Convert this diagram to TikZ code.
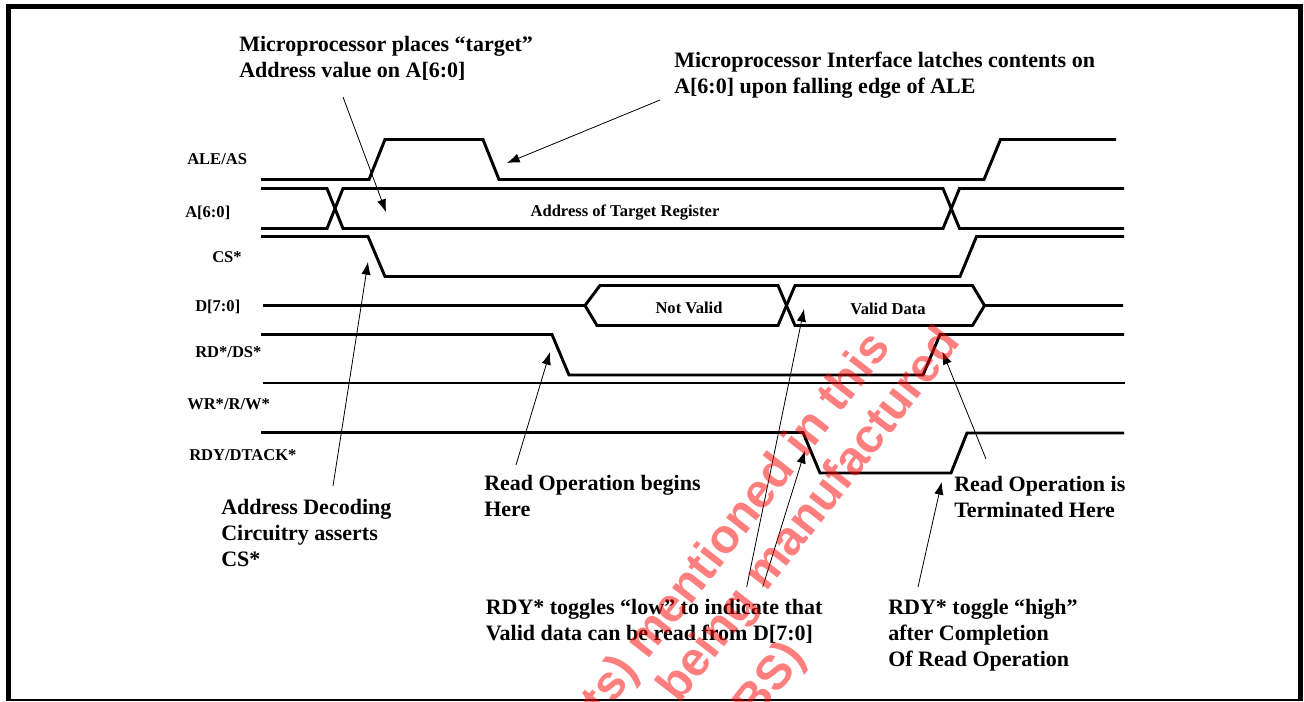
\documentclass[tikz,border=0pt]{standalone}
\usepackage{fontspec}
\setmainfont{Liberation Serif}
\newfontfamily\wmfont{Liberation Sans}
\usetikzlibrary{arrows.meta}
\tikzset{
  sig/.style={line width=2.2pt,line join=miter,line cap=butt},
  note/.style={font=\fontsize{16.5pt}{19.5pt}\selectfont\bfseries,anchor=north west,inner sep=0pt,align=left},
  lbl/.style={font=\fontsize{12.4pt}{14pt}\selectfont\bfseries,inner sep=0pt},
  call/.style={line width=0.6pt,-{Latex[length=9.5pt,width=7pt]}},
  wm/.style={font=\wmfont\fontsize{36pt}{42pt}\selectfont\bfseries,text=red,opacity=0.5,rotate=52,inner sep=0pt}
}
\begin{document}
\begin{tikzpicture}[x=0.75pt,y=-0.75pt]
\useasboundingbox (0,0) rectangle (1304,701);
\clip (0,0) rectangle (1304,701);
% frame
\draw[line width=4pt] (8.5,700.5) -- (8.5,6.5) -- (1300.5,6.5) -- (1300.5,700.5);
\draw[line width=0.8pt] (6,700) -- (1303,700);
% signals
\draw[sig] (261,179.5) -- (369,179.5) -- (385,139.5) -- (483,139.5) -- (499,179.5) -- (984,179.5) -- (1000.5,139.5) -- (1116,139.5);
\draw[sig] (261,188.5) -- (327,188.5) -- (343,228.5) -- (943,228.5) -- (959.5,188.5) -- (1124,188.5);
\draw[sig] (261,228.5) -- (327,228.5) -- (343,188.5) -- (943,188.5) -- (959.5,228.5) -- (1124,228.5);
\draw[sig] (261,236.5) -- (368,236.5) -- (385,276.5) -- (960,276.5) -- (976.5,236.5) -- (1124,236.5);
\draw[sig] (263,305.5) -- (585,305.5) -- (600,285.5) -- (778,285.5) -- (795,325.5) -- (972.5,325.5) -- (984.5,305.5) -- (1123,305.5);
\draw[sig] (585,305.5) -- (597,325.5) -- (778,325.5) -- (795,285.5) -- (972.5,285.5) -- (984.5,305.5);
\draw[sig] (261,334.5) -- (552,334.5) -- (569,375) -- (923,375) -- (940,334.5) -- (1124,334.5);
\draw[sig] (263,383) -- (1125,383);
\draw[sig] (261,432.5) -- (803,432.5) -- (820,473) -- (951,473) -- (967,433) -- (1124,433);
% signal labels
\node[lbl,anchor=west] (lale) at (187,159.5) {ALE/AS};
\node[lbl,anchor=west] (la) at (185,212.5) {A[6:0]};
\node[lbl,anchor=west] (lcs) at (212,257.5) {CS*};
\node[lbl,anchor=west] (ld) at (195,306.5) {D[7:0]};
\node[lbl,anchor=west] (lrd) at (195,352.5) {RD*/DS*};
\node[lbl,anchor=west] (lwr) at (187,404.5) {WR*/R/W*};
\node[lbl,anchor=west] (lrdy) at (189,455.5) {RDY/DTACK*};
\node[lbl] (taddr) at (625,212) {Address of Target Register};
\node[lbl] (tnv) at (689,307.5) {Not Valid};
\node[lbl] (tvd) at (888,308.5) {Valid Data};
% notes
\node[note] (n1) at (239,36) {Microprocessor places “target”\\Address value on A[6:0]};
\node[note] (n2) at (674,52) {Microprocessor Interface latches contents on\\A[6:0] upon falling edge of ALE};
\node[note] (n3) at (221,499) {Address Decoding\\Circuitry asserts\\CS*};
\node[note] (n4) at (484,475) {Read Operation begins\\Here};
\node[note] (n5) at (954,476) {Read Operation is\\Terminated Here};
\node[note] (n6) at (485.5,599) {RDY* toggles “low” to indicate that\\Valid data can be read from D[7:0]};
\node[note] (n7) at (888,599) {RDY* toggle “high”\\after Completion\\Of Read Operation};
% callout arrows
\coordinate (a1s) at (343,97); \coordinate (a1e) at (386,212);
\coordinate (a2s) at (333,486); \coordinate (a2e) at (368,262);
\coordinate (a3s) at (660,100); \coordinate (a3e) at (507,163);
\coordinate (a4s) at (516,465); \coordinate (a4e) at (550,352);
\coordinate (a5s) at (746.7,587); \coordinate (a5e) at (804,309);
\coordinate (a6s) at (762.7,587); \coordinate (a6e) at (805,450.7);
\coordinate (a7s) at (986,459); \coordinate (a7e) at (942.5,351.7);
\coordinate (a8s) at (918,587); \coordinate (a8e) at (941.7,482);
\foreach \i in {1,...,8} \draw[call] (a\i s) -- (a\i e);
% watermark
\node[wm] (w1) at (738,525) {ts) mentioned in this};
\node[wm] (w2) at (811,516) {being manufactured};
\node[wm] (w3) at (760,697) {OBS)};
\end{tikzpicture}
\end{document}
